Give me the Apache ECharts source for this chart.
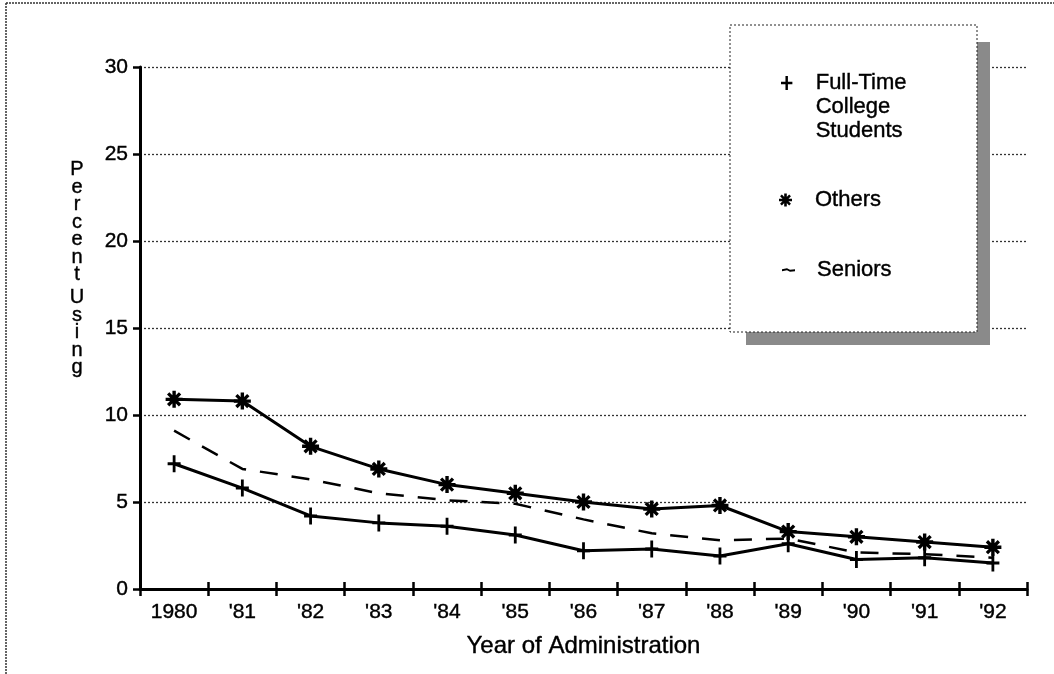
<!DOCTYPE html>
<html>
<head>
<meta charset="utf-8">
<script src="https://cdn.jsdelivr.net/npm/echarts@6/dist/echarts.min.js"></script>
<style>
html,body{margin:0;padding:0;background:#fff;}
#chart{width:1054px;height:674px;}
</style>
</head>
<body>
<div id="chart"></div>
<script>
const years = ['1980', "'81", "'82", "'83", "'84", "'85", "'86", "'87", "'88", "'89", "'90", "'91", "'92"];
const fullTime = [7.2, 5.8, 4.2, 3.8, 3.6, 3.1, 2.2, 2.3, 1.9, 2.6, 1.7, 1.8, 1.5];
const others = [10.9, 10.8, 8.2, 6.9, 6.0, 5.5, 5.0, 4.6, 4.8, 3.3, 3.0, 2.7, 2.4];
const seniors = [9.1, 6.9, 6.3, 5.5, 5.1, 4.9, 4.0, 3.2, 2.8, 2.9, 2.1, 2.0, 1.8];
const yTicks = [0, 5, 10, 15, 20, 25, 30];

const FONT = '"Liberation Sans", Arial, Helvetica, sans-serif';
const plusPath = 'path://M-1.4,-8 L1.4,-8 L1.4,-1.4 L6.5,-1.4 L6.5,1.4 L1.4,1.4 L1.4,8 L-1.4,8 L-1.4,1.4 L-6.5,1.4 L-6.5,-1.4 L-1.4,-1.4 Z';
const starPath = 'path://M-1.6,-8 L1.6,-8 L1.6,8 L-1.6,8 Z M-8,-1.6 L8,-1.6 L8,1.6 L-8,1.6 Z M-4.5,-6.7 L6.7,4.5 L4.5,6.7 L-6.7,-4.5 Z M4.5,-6.7 L6.7,-4.5 L-4.5,6.7 L-6.7,4.5 Z';
const dashPath = 'path://M0,1 L5,0 L8,1.5 L13,1 L13,3 L8,3.5 L5,2 L0,3 Z';

const TXT = {fontFamily: FONT, color: '#000', textBorderColor: '#000', textBorderWidth: 0.4};

const chart = echarts.init(document.getElementById('chart'));

const legendBase = {
  orient: 'vertical', padding: 0, selectedMode: false, z: 200,
  textStyle: Object.assign({}, TXT, {fontSize: 22, lineHeight: 24})
};

chart.setOption({
  backgroundColor: '#fff',
  animation: false,
  grid: {left: 140, right: 27, top: 67, bottom: 85},
  xAxis: [{
    type: 'category', data: years, boundaryGap: true,
    axisLine: {lineStyle: {color: '#000', width: 3}},
    axisTick: {show: true, length: 7, lineStyle: {color: '#000', width: 2.5}},
    axisLabel: Object.assign({}, TXT, {fontSize: 21, margin: 13}),
    name: 'Year of Administration', nameLocation: 'middle', nameGap: 45,
    nameTextStyle: Object.assign({}, TXT, {fontSize: 24}),
    splitLine: {show: false}
  }, {
    type: 'category', data: years, boundaryGap: true, position: 'bottom',
    axisLine: {show: false},
    axisTick: {show: true, inside: true, length: 7, lineStyle: {color: '#000', width: 2.5}},
    axisLabel: {show: false}, splitLine: {show: false}
  }],
  yAxis: {
    type: 'value', min: yTicks[0], max: yTicks[yTicks.length - 1], interval: 5,
    axisLine: {show: true, lineStyle: {color: '#000', width: 3}},
    axisTick: {show: true, length: 7, lineStyle: {color: '#000', width: 2.5}},
    axisLabel: Object.assign({}, TXT, {fontSize: 21, margin: 12}),
    splitLine: {show: true, lineStyle: {color: '#333', width: 1.3, type: [2, 2]}}
  },
  legend: [
    Object.assign({}, legendBase, {
      left: 781, top: 23, itemWidth: 14, itemHeight: 14,
      data: [{name: 'Full-Time College Students', icon: plusPath}],
      formatter: () => '\n\nFull-Time\nCollege\nStudents',
      textStyle: Object.assign({}, legendBase.textStyle, {padding: [0, 0, 0, 17]})
    }),
    Object.assign({}, legendBase, {
      left: 779, top: 188, itemWidth: 17, itemHeight: 13,
      data: [{name: 'Others', icon: starPath}],
      textStyle: Object.assign({}, legendBase.textStyle, {padding: [0, 0, 0, 16]})
    }),
    Object.assign({}, legendBase, {
      left: 782, top: 258, itemWidth: 13, itemHeight: 4,
      data: [{name: 'Seniors', icon: dashPath}],
      textStyle: Object.assign({}, legendBase.textStyle, {padding: [0, 0, 0, 17]})
    })
  ],
  graphic: [
    {type: 'line', z: 50, shape: {x1: 6, y1: 3, x2: 1054, y2: 3}, style: {stroke: '#333', lineWidth: 1.5, lineDash: [2, 1]}},
    {type: 'line', z: 50, shape: {x1: 6, y1: 3, x2: 6, y2: 674}, style: {stroke: '#333', lineWidth: 1.5, lineDash: [2, 1]}},
    {type: 'rect', z: 100, shape: {x: 746, y: 42, width: 244, height: 303}, style: {fill: '#8a8a8a'}},
    {type: 'rect', z: 101, shape: {x: 730, y: 25, width: 247, height: 307}, style: {fill: '#fff', stroke: '#222', lineWidth: 1, lineDash: [2, 2]}},
    {type: 'text', z: 50, style: {text: 'P\ne\nr\nc\ne\nn\nt', x: 77, y: 161, fontFamily: FONT, fontSize: 20, lineHeight: 17.5, fill: '#000', stroke: '#000', lineWidth: 0.4, align: 'center'}},
    {type: 'text', z: 50, style: {text: 'U\ns\ni\nn\ng', x: 77, y: 289, fontFamily: FONT, fontSize: 20, lineHeight: 17.5, fill: '#000', stroke: '#000', lineWidth: 0.4, align: 'center'}}
  ],
  series: [
    {
      name: 'Full-Time College Students', type: 'line', data: fullTime,
      symbol: plusPath, symbolSize: [13, 17], showSymbol: true,
      itemStyle: {color: '#000'}, lineStyle: {color: '#000', width: 3}, z: 10
    },
    {
      name: 'Others', type: 'line', data: others,
      symbol: starPath, symbolSize: [17, 17], showSymbol: true,
      itemStyle: {color: '#000'}, lineStyle: {color: '#000', width: 3}, z: 10
    },
    {
      name: 'Seniors', type: 'line', data: seniors,
      symbol: 'none',
      itemStyle: {color: '#000'}, lineStyle: {color: '#000', width: 2.5, type: [18, 14]}, z: 10
    }
  ]
});
</script>
</body>
</html>
